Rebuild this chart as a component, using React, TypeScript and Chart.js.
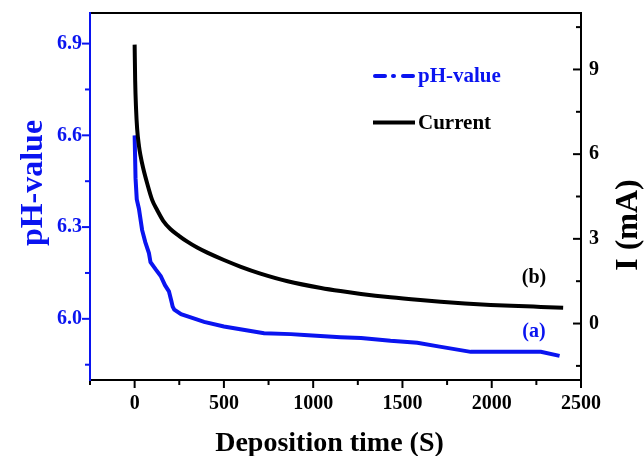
import React, { useEffect, useRef } from 'react';
import { Chart, registerables } from 'chart.js';

Chart.register(...registerables);

// ---- data ----
const timeCurrent = [0, 3, 8, 14, 24, 33, 48, 70, 98, 126, 160, 200, 250, 295, 350, 407, 500, 595, 700, 857, 1044, 1153, 1268, 1433, 1600, 1714, 1850, 1994, 2150, 2275, 2400];
const currentValues = [9.88, 8.6, 7.6, 6.9, 6.3, 5.95, 5.5, 4.97, 4.38, 4.02, 3.64, 3.35, 3.1, 2.9, 2.69, 2.51, 2.25, 2.01, 1.78, 1.5, 1.26, 1.15, 1.05, 0.93, 0.83, 0.77, 0.71, 0.66, 0.62, 0.59, 0.56];

const timePH = [0, 5, 12, 24, 42, 60, 80, 89, 120, 146, 170, 192, 205, 213, 222, 260, 314, 389, 500, 600, 725, 875, 950, 1153, 1268, 1433, 1583, 1700, 1882, 2100, 2275, 2380];
const phValues = [6.6, 6.46, 6.39, 6.36, 6.29, 6.25, 6.215, 6.185, 6.16, 6.14, 6.11, 6.09, 6.06, 6.04, 6.03, 6.015, 6.005, 5.99, 5.975, 5.965, 5.953, 5.95, 5.947, 5.94, 5.937, 5.928, 5.922, 5.91, 5.892, 5.892, 5.892, 5.879];

const xTickValues = [0, 500, 1000, 1500, 2000, 2500];
const xMinorValues = [-250, 250, 750, 1250, 1750, 2250];
const phTickValues = [6.0, 6.3, 6.6, 6.9];
const phMinorValues = [5.85, 6.15, 6.45, 6.75];
const currentTickValues = [0, 3, 6, 9];
const currentMinorValues = [-1.5, 1.5, 4.5, 7.5, 10.5];

const seriesNames = ['pH-value', 'Current'];
const curveLabels = ['(a)', '(b)'];
const xTitle = 'Deposition time (S)';
const yLeftTitle = 'pH-value';
const yRightTitle = 'I (mA)';

const BLUE = '#0a14f0';
const BLACK = '#000000';
const FONT = '"Times New Roman", "Liberation Serif", serif';

const decorPlugin = {
  id: 'decor',
  afterDraw(chart: any) {
    const { ctx, chartArea: a, scales } = chart;
    const sx = scales.x, sl = scales.y, sr = scales.y1;
    ctx.save();
    const seg = (x1: number, y1: number, x2: number, y2: number) => {
      ctx.beginPath();
      ctx.moveTo(x1, y1);
      ctx.lineTo(x2, y2);
      ctx.stroke();
    };
    ctx.lineWidth = 2;
    ctx.lineCap = 'butt';
    // frame
    ctx.strokeStyle = BLACK;
    seg(a.left - 1, a.top, a.right + 1, a.top);
    seg(a.left - 1, a.bottom, a.right + 1, a.bottom);
    seg(a.right, a.top - 1, a.right, a.bottom + 1);
    // bottom ticks (outward)
    xTickValues.forEach((v) => { const p = sx.getPixelForValue(v); seg(p, a.bottom, p, a.bottom + 8); });
    xMinorValues.forEach((v) => { const p = sx.getPixelForValue(v); seg(p, a.bottom, p, a.bottom + 5); });
    // right ticks (inward)
    currentTickValues.forEach((v) => { const p = sr.getPixelForValue(v); seg(a.right, p, a.right - 8, p); });
    currentMinorValues.forEach((v) => { const p = sr.getPixelForValue(v); seg(a.right, p, a.right - 5, p); });
    // left axis (blue, outward ticks)
    ctx.strokeStyle = BLUE;
    seg(a.left, a.top - 1, a.left, a.bottom + 1);
    phTickValues.forEach((v) => { const p = sl.getPixelForValue(v); seg(a.left, p, a.left - 8, p); });
    phMinorValues.forEach((v) => { const p = sl.getPixelForValue(v); seg(a.left, p, a.left - 5, p); });

    // titles
    ctx.textBaseline = 'alphabetic';
    ctx.textAlign = 'center';
    ctx.fillStyle = BLACK;
    ctx.font = `bold 28px ${FONT}`;
    ctx.fillText(xTitle, (a.left + a.right) / 2 - 6, 451);

    ctx.save();
    ctx.translate(42, 183);
    ctx.rotate(-Math.PI / 2);
    ctx.fillStyle = BLUE;
    ctx.font = `bold 32px ${FONT}`;
    ctx.fillText(yLeftTitle, 0, 0);
    ctx.restore();

    ctx.save();
    ctx.translate(637, 225);
    ctx.rotate(-Math.PI / 2);
    ctx.fillStyle = BLACK;
    ctx.font = `bold 32px ${FONT}`;
    ctx.fillText(yRightTitle, 0, 0);
    ctx.restore();

    // legend
    ctx.lineWidth = 4;
    ctx.strokeStyle = BLUE;
    ctx.lineCap = 'round';
    seg(375, 76, 385, 76);
    seg(393, 76, 394, 76);
    seg(403, 76, 413, 76);
    ctx.strokeStyle = BLACK;
    ctx.lineCap = 'butt';
    seg(373, 122.5, 415, 122.5);
    ctx.textAlign = 'left';
    ctx.font = `bold 21px ${FONT}`;
    ctx.fillStyle = BLUE;
    ctx.fillText(seriesNames[0], 418, 82);
    ctx.fillStyle = BLACK;
    ctx.fillText(seriesNames[1], 418, 128.5);

    // curve labels
    ctx.textAlign = 'center';
    ctx.font = `bold 20px ${FONT}`;
    ctx.fillStyle = BLUE;
    ctx.fillText(curveLabels[0], 534, 337);
    ctx.fillStyle = BLACK;
    ctx.fillText(curveLabels[1], 534, 283);
    ctx.restore();
  },
};

export default function App() {
  const ref = useRef<HTMLCanvasElement | null>(null);
  useEffect(() => {
    if (!ref.current) return;
    const tickFont = { family: FONT, size: 20, weight: 'bold' as const };
    const chart = new Chart(ref.current, {
      type: 'line',
      data: {
        datasets: [
          {
            label: seriesNames[1],
            data: timeCurrent.map((t, i) => ({ x: t, y: currentValues[i] })),
            yAxisID: 'y1',
            borderColor: BLACK,
            borderWidth: 4,
            pointRadius: 0,
            cubicInterpolationMode: 'monotone',
            fill: false,
          },
          {
            label: seriesNames[0],
            data: timePH.map((t, i) => ({ x: t, y: phValues[i] })),
            yAxisID: 'y',
            borderColor: BLUE,
            borderWidth: 4,
            pointRadius: 0,
            tension: 0,
            fill: false,
          },
        ],
      },
      options: {
        animation: false,
        responsive: false,
        maintainAspectRatio: false,
        layout: { padding: { top: 13, left: 0, right: 0, bottom: 0 } },
        plugins: { legend: { display: false }, tooltip: { enabled: false } },
        scales: {
          x: {
            type: 'linear',
            min: -250,
            max: 2500,
            afterBuildTicks: (s: any) => { s.ticks = xTickValues.map((v) => ({ value: v })); },
            afterFit: (s: any) => { s.height = 76; s.paddingLeft = 0; s.paddingRight = 0; },
            grid: { display: false, drawTicks: false },
            border: { display: false },
            ticks: { color: BLACK, font: tickFont, padding: 12, autoSkip: false, maxRotation: 0, callback: (v: any) => String(v) },
          },
          y: {
            type: 'linear',
            position: 'left',
            min: 5.8,
            max: 7.0,
            afterBuildTicks: (s: any) => { s.ticks = phTickValues.map((v) => ({ value: v })); },
            afterFit: (s: any) => { s.width = 90; s.paddingTop = 0; s.paddingBottom = 0; },
            grid: { display: false, drawTicks: false },
            border: { display: false },
            ticks: { color: BLUE, font: tickFont, padding: 8, callback: (v: any) => Number(v).toFixed(1) },
          },
          y1: {
            type: 'linear',
            position: 'right',
            min: -2,
            max: 11,
            afterBuildTicks: (s: any) => { s.ticks = currentTickValues.map((v) => ({ value: v })); },
            afterFit: (s: any) => { s.width = 63; s.paddingTop = 0; s.paddingBottom = 0; },
            grid: { display: false, drawTicks: false },
            border: { display: false },
            ticks: { color: BLACK, font: tickFont, padding: 8, callback: (v: any) => String(v) },
          },
        },
      },
      plugins: [decorPlugin],
    });
    return () => chart.destroy();
  }, []);
  return (
    <div style={{ position: 'fixed', left: 0, top: 0, width: 644, height: 456, background: '#fff' }}>
      <canvas ref={ref} width={644} height={456} style={{ display: 'block', width: 644, height: 456 }} />
    </div>
  );
}
